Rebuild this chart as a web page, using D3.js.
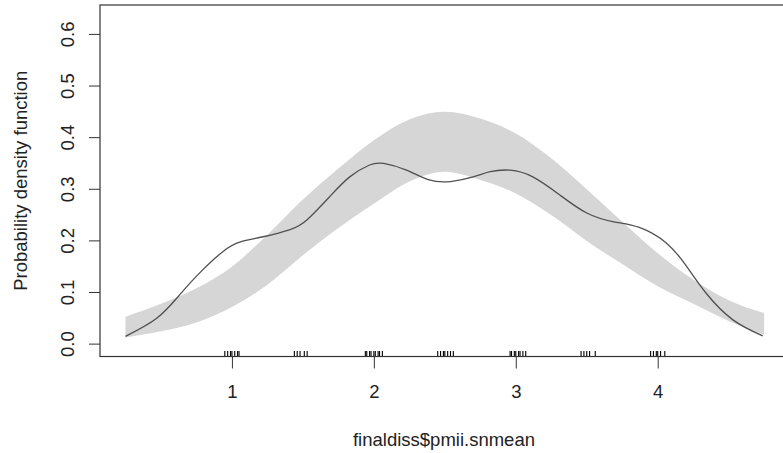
<!DOCTYPE html>
<html>
<head>
<meta charset="utf-8">
<script src="https://cdn.jsdelivr.net/npm/d3@7"></script>
<style>
  body { margin: 0; background: #fff; }
  svg text { font-family: "Liberation Sans", Arial, sans-serif; fill: #222; }
</style>
</head>
<body>
<svg width="783" height="453"></svg>
<script>
// density estimate
const curveX = [0.25, 0.47, 0.63, 0.78, 0.94, 1.06, 1.22, 1.41, 1.53, 1.69, 1.83, 1.97, 2.07, 2.23, 2.39, 2.54, 2.70, 2.82, 2.96, 3.12, 3.31, 3.50, 3.69, 3.87, 4.06, 4.20, 4.34, 4.53, 4.74];
const curveY = [0.015, 0.050, 0.095, 0.140, 0.180, 0.198, 0.208, 0.222, 0.241, 0.286, 0.324, 0.347, 0.350, 0.337, 0.318, 0.315, 0.324, 0.334, 0.337, 0.324, 0.289, 0.254, 0.237, 0.226, 0.196, 0.152, 0.099, 0.047, 0.016];

// reference band (normal model)
const bandX = [0.25, 0.5, 0.75, 1.0, 1.25, 1.5, 1.75, 2.0, 2.25, 2.5, 2.75, 3.0, 3.25, 3.5, 3.75, 4.0, 4.25, 4.5, 4.75];
const bandUpper = [0.053, 0.078, 0.108, 0.150, 0.212, 0.280, 0.340, 0.395, 0.435, 0.450, 0.437, 0.408, 0.360, 0.300, 0.237, 0.176, 0.125, 0.085, 0.060];
const bandLower = [0.013, 0.025, 0.042, 0.072, 0.115, 0.172, 0.225, 0.272, 0.315, 0.334, 0.318, 0.292, 0.250, 0.200, 0.155, 0.112, 0.078, 0.045, 0.018];

// rug of observations
const rugValues = [0.95, 0.97, 0.99, 1.0, 1.02, 1.04, 1.05,
  1.44, 1.46, 1.48, 1.51, 1.53,
  1.94, 1.95, 1.97, 1.98, 2.0, 2.01, 2.03, 2.04, 2.06,
  2.45, 2.47, 2.49, 2.5, 2.52, 2.54, 2.56,
  2.96, 2.97, 2.99, 3.0, 3.02, 3.03, 3.05, 3.07,
  3.46, 3.48, 3.5, 3.52, 3.56,
  3.95, 3.97, 3.99, 4.0, 4.02, 4.05];

const xTicks = [1, 2, 3, 4];
const yTicks = [0.0, 0.1, 0.2, 0.3, 0.4, 0.5, 0.6];

const svg = d3.select('svg');
const m = {left: 100, right: 788, top: 5, bottom: 356.5};
const fs = 18.5;

const x = d3.scaleLinear().domain([0.0705, 4.918]).range([m.left, m.right]);
const y = d3.scaleLinear().domain([-0.024, 0.657]).range([m.bottom, m.top]);

// band
const band = d3.area()
    .x((d, i) => x(bandX[i]))
    .y0((d, i) => y(bandLower[i]))
    .y1((d, i) => y(bandUpper[i]))
    .curve(d3.curveMonotoneX);
svg.append('path')
    .datum(bandX)
    .attr('d', band)
    .attr('fill', '#d6d6d6');

// density line
const line = d3.line()
    .x((d, i) => x(curveX[i]))
    .y((d, i) => y(curveY[i]))
    .curve(d3.curveNatural);
svg.append('path')
    .datum(curveX)
    .attr('d', line)
    .attr('fill', 'none')
    .attr('stroke', '#505050')
    .attr('stroke-width', 1.3);

// rug
svg.append('g')
    .selectAll('line')
    .data(rugValues)
    .enter()
    .append('line')
    .attr('x1', d => x(d)).attr('x2', d => x(d))
    .attr('y1', m.bottom - 5.5).attr('y2', m.bottom)
    .attr('stroke', '#000')
    .attr('stroke-width', 1.1);

// box
svg.append('rect')
    .attr('x', m.left).attr('y', m.top)
    .attr('width', m.right - m.left).attr('height', m.bottom - m.top)
    .attr('fill', 'none')
    .attr('stroke', '#333')
    .attr('stroke-width', 1.2);

// axes
const xAxis = d3.axisBottom(x).tickValues(xTicks).tickSize(12).tickPadding(16).tickFormat(d3.format('d'));
const gx = svg.append('g')
    .attr('transform', `translate(0,${m.bottom})`)
    .call(xAxis);
gx.select('.domain').remove();
gx.selectAll('line').attr('stroke', '#333');
gx.selectAll('text').attr('font-size', fs).attr('fill', '#222');

const yAxis = d3.axisLeft(y).tickValues(yTicks).tickSize(11).tickFormat(d3.format('.1f'));
const gy = svg.append('g')
    .attr('transform', `translate(${m.left},0)`)
    .call(yAxis);
gy.select('.domain').remove();
gy.selectAll('line').attr('stroke', '#333');
gy.selectAll('.tick').attr('transform', null);
gy.selectAll('.tick line').attr('y1', d => y(d)).attr('y2', d => y(d));
gy.selectAll('text')
    .attr('font-size', fs)
    .attr('fill', '#222')
    .attr('text-anchor', 'middle')
    .attr('x', 0).attr('y', 0).attr('dy', 0)
    .attr('transform', d => `translate(-26,${y(d)}) rotate(-90)`);

// titles
svg.append('text')
    .attr('x', (m.left + m.right) / 2)
    .attr('y', 445.5)
    .attr('text-anchor', 'middle')
    .attr('font-size', fs)
    .text('finaldiss$pmii.snmean');

svg.append('text')
    .attr('transform', `translate(27,${(m.top + m.bottom) / 2}) rotate(-90)`)
    .attr('text-anchor', 'middle')
    .attr('font-size', fs)
    .text('Probability density function');
</script>
</body>
</html>
